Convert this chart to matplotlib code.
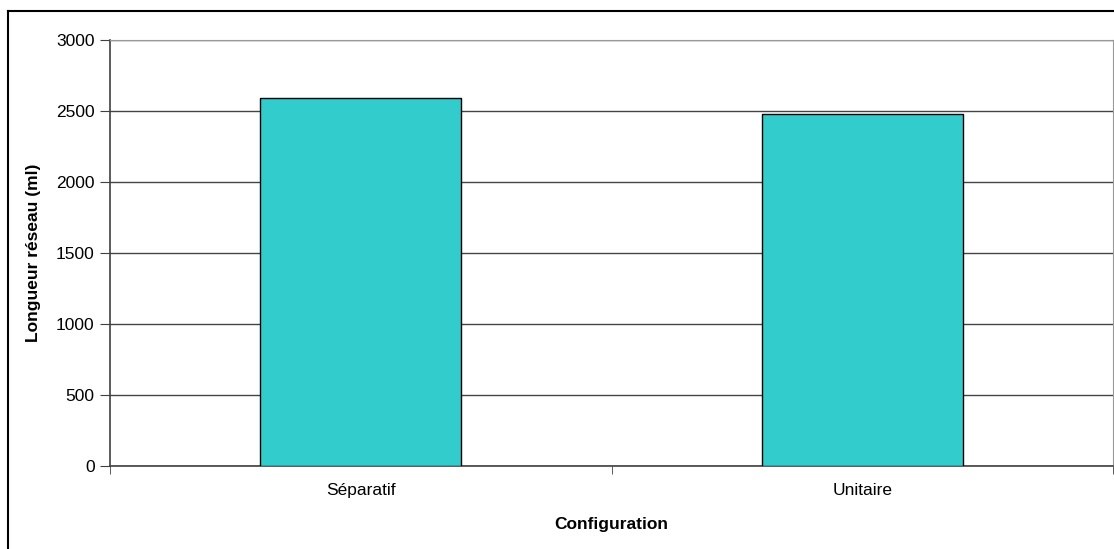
import matplotlib
matplotlib.use("Agg")
from matplotlib import pyplot as plt
from matplotlib.lines import Line2D

categories = ["Séparatif", "Unitaire"]
longueur = [2595, 2480]
y_ticks = [0, 500, 1000, 1500, 2000, 2500, 3000]

plt.rcParams['font.family'] = ['Liberation Sans', 'DejaVu Sans']

fig = plt.figure(figsize=(11.14, 5.49), dpi=100)
ax = fig.add_axes([110 / 1114, 1 - 466 / 549, (1113 - 110) / 1114, (466 - 40) / 549])

# bars centred in their category slot, like excel
pos = [i + 0.5 for i in range(len(categories))]
ax.bar(pos, longueur, width=0.4, color='#33CCCC', edgecolor='black', linewidth=1, zorder=3)

ax.set_xlim(0, len(categories))
ax.set_ylim(0, 3000)
ax.set_yticks(y_ticks)
ax.set_yticklabels([str(v) for v in y_ticks], fontsize=12.5)
ax.set_xticks(pos)
ax.set_xticklabels(categories, fontsize=12.5)
ax.tick_params(axis='x', length=0, pad=12)
ax.tick_params(axis='y', length=7, direction='out', color='#404040', pad=4)

# category separators as ticks
ax.set_xticks(range(len(categories) + 1), minor=True)
ax.tick_params(axis='x', which='minor', length=6, direction='out', color='#404040')

ax.yaxis.grid(True, color='#444444', linewidth=1)
ax.set_axisbelow(True)

for side in ['top', 'right']:
    ax.spines[side].set_color('#999999')
for side in ['left', 'bottom']:
    ax.spines[side].set_color('#404040')
    ax.spines[side].set_linewidth(1.2)

ax.set_xlabel("Configuration", fontsize=12.5, fontweight='bold', labelpad=14)
ax.set_ylabel("Longueur réseau (ml)", fontsize=12.5, fontweight='bold', labelpad=11)

# outer chart border (cut off on the right and bottom)
fig.add_artist(Line2D([8 / 1114, 8 / 1114], [0, 1 - 11 / 549], transform=fig.transFigure, color='black', lw=1.5))
fig.add_artist(Line2D([8 / 1114, 1], [1 - 11 / 549, 1 - 11 / 549], transform=fig.transFigure, color='black', lw=1.5))

fig.savefig("out.png", dpi=100)
